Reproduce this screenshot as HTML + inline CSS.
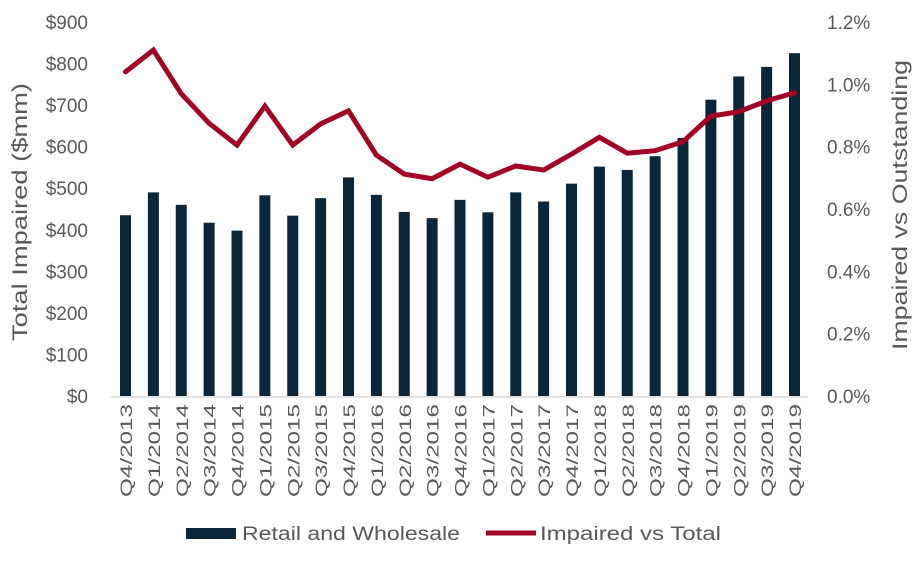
<!DOCTYPE html>
<html><head><meta charset="utf-8"><style>
body{margin:0;background:#fff;}
svg text{font-family:"Liberation Sans",sans-serif;fill:#595959;}
</style></head><body>
<svg id="chart" width="921" height="559" viewBox="0 0 921 559" xmlns="http://www.w3.org/2000/svg">
<g id="g"></g>
</svg>
<script>
const categories=["Q4/2013","Q1/2014","Q2/2014","Q3/2014","Q4/2014","Q1/2015","Q2/2015","Q3/2015","Q4/2015","Q1/2016","Q2/2016","Q3/2016","Q4/2016","Q1/2017","Q2/2017","Q3/2017","Q4/2017","Q1/2018","Q2/2018","Q3/2018","Q4/2018","Q1/2019","Q2/2019","Q3/2019","Q4/2019"];
const barValues=[435,490,460,417,398,483,434,476,526,484,443,428,472,442,490,468,511,552,544,577,621,713,769,792,825];
const lineValues=[1.04,1.11,0.97,0.875,0.805,0.93,0.805,0.873,0.915,0.773,0.712,0.697,0.744,0.702,0.738,0.725,0.776,0.83,0.779,0.787,0.816,0.898,0.912,0.947,0.973];
const leftTicks=["$0","$100","$200","$300","$400","$500","$600","$700","$800","$900"];
const rightTicks=["0.0%","0.2%","0.4%","0.6%","0.8%","1.0%","1.2%"];

const NS="http://www.w3.org/2000/svg";
const g=document.getElementById('g');
const y0=396,yTop=22;
const yL=v=>y0-(v/900)*(y0-yTop);
const yR=v=>y0-(v/1.2)*(y0-yTop);
const xC=i=>125.5+i*27.875;
function mk(t,a){const e=document.createElementNS(NS,t);for(const k in a)e.setAttribute(k,a[k]);g.appendChild(e);return e;}

barValues.forEach((v,i)=>{
 const r=mk('rect',{x:xC(i)-5.5,y:yL(v),width:11,height:y0-yL(v),fill:'#0a263b'});
 
 
});
const ax=mk('line',{x1:111,y1:y0+1,x2:808,y2:y0+1,stroke:'#d9d9d9','stroke-width':1.5});



const pl=mk('polyline',{points:lineValues.map((v,i)=>xC(i)+','+yR(v)).join(' '),fill:'none',stroke:'#a30324','stroke-width':5,'stroke-linejoin':'miter','stroke-linecap':'round'});



leftTicks.forEach((t,i)=>{
 const e=mk('text',{x:88,y:yL(i*100)+7,'text-anchor':'end','font-size':19});
 e.textContent=t;
 
 
});
rightTicks.forEach((t,i)=>{
 const e=mk('text',{x:827,y:yR(i*0.2)+7,'font-size':19});
 e.textContent=t;
 
 
});
categories.forEach((c,i)=>{
 const e=mk('text',{x:0,y:0,'text-anchor':'end','font-size':17,textLength:93,lengthAdjust:'spacingAndGlyphs',transform:`translate(${xC(i)+6.5},404) rotate(-90)`});
 e.textContent=c;
 
 
});
const lt=mk('text',{x:0,y:0,'text-anchor':'middle','font-size':21,textLength:258,lengthAdjust:'spacingAndGlyphs',transform:'translate(27,212) rotate(-90)'});
lt.textContent='Total Impaired ($mm)';


const rt=mk('text',{x:0,y:0,'text-anchor':'middle','font-size':21,textLength:290,lengthAdjust:'spacingAndGlyphs',transform:'translate(907,205) rotate(-90)'});
rt.textContent='Impaired vs Outstanding';



const lb=mk('rect',{x:186,y:528,width:50,height:11,fill:'#0a263b'});


const lbt=mk('text',{x:242,y:540,'font-size':19,textLength:218,lengthAdjust:'spacingAndGlyphs'});
lbt.textContent='Retail and Wholesale';


const ll=mk('line',{x1:486,y1:533,x2:536,y2:533,stroke:'#a30324','stroke-width':5});


const llt=mk('text',{x:540,y:540,'font-size':19,textLength:181,lengthAdjust:'spacingAndGlyphs'});
llt.textContent='Impaired vs Total';


</script>
</body></html>
